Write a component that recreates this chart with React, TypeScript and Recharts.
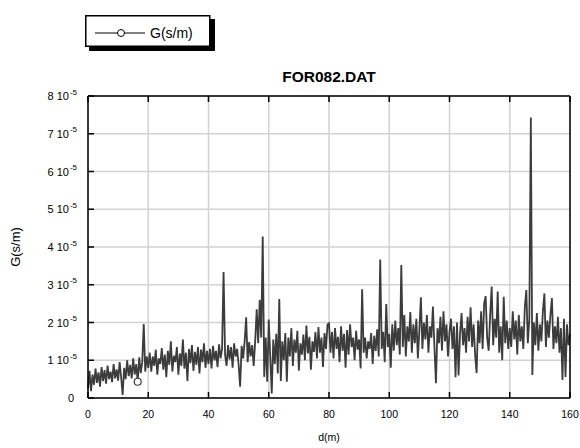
import { LineChart, Line, XAxis, YAxis, CartesianGrid } from "recharts";

// G readings in units of 1e-5 s/m, one every 0.5 m, grouped by 20 m stretch
const G_0_20 = [
  0.25, 0.72, 0.18, 0.62, 0.35, 0.78, 0.4, 0.68, 0.3, 0.82,
  0.45, 0.74, 0.38, 0.86, 0.5, 0.7, 0.42, 0.9, 0.52, 0.76,
  0.46, 0.95, 0.55, 0.08, 0.8, 0.5, 1.0, 0.58, 0.88, 0.52,
  1.05, 0.62, 0.9, 0.43, 1.08, 0.66, 0.95, 1.96, 0.7, 1.1,
];
const G_20_40 = [
  0.8, 1.2, 0.7, 1.1, 0.85, 1.28, 0.62, 1.05, 0.9, 1.32,
  0.75, 1.15, 0.55, 1.25, 0.88, 1.5, 0.7, 1.12, 0.95, 1.35,
  0.62, 1.18, 0.85, 1.55, 0.78, 1.2, 0.45, 1.3, 0.92, 1.4,
  0.72, 1.22, 0.88, 1.35, 0.65, 1.28, 0.95, 1.45, 0.8, 1.25,
];
const G_40_60 = [
  0.9, 1.3, 0.78, 1.38, 1.0, 1.25, 0.82, 1.42, 1.05, 1.3,
  3.34, 1.15, 0.85, 1.4, 1.02, 1.35, 0.8, 1.45, 1.1, 1.3,
  0.88, 0.3, 1.38, 1.05, 1.5, 2.14, 0.95, 1.48, 1.1, 1.4,
  0.85, 1.5, 2.35, 1.45, 2.6, 1.6, 4.28, 0.56, 1.6, 0.43,
];
const G_60_80 = [
  2.08, 1.1, 0.12, 1.55, 0.9, 1.7, 0.65, 2.62, 0.45, 1.5,
  1.0, 1.72, 0.43, 1.6, 1.1, 1.85, 0.85, 1.55, 1.2, 1.78,
  0.72, 1.45, 1.15, 1.68, 1.0, 1.92, 1.18, 1.62, 0.75, 1.5,
  1.22, 1.75, 1.05, 1.88, 1.2, 1.6, 0.82, 1.72, 1.3, 1.95,
];
const G_80_100 = [
  1.98, 1.2, 1.75, 1.05, 1.85, 1.3, 1.62, 0.95, 1.9, 1.25,
  1.7, 0.8, 1.8, 1.15, 1.95, 1.35, 1.6, 1.0, 1.78, 1.28,
  1.55, 0.78, 2.88, 1.2, 1.6, 1.05, 1.5, 1.3, 1.72, 0.9,
  1.65, 1.25, 1.82, 1.1, 3.67, 1.3, 1.75, 0.95, 2.49, 1.35,
];
const G_100_120 = [
  1.7, 0.8, 1.95, 1.25, 2.05, 1.4, 1.85, 1.15, 3.52, 1.35,
  2.2, 1.1, 1.9, 1.5, 2.28, 1.2, 1.95, 1.45, 2.1, 1.05,
  1.8, 2.67, 1.3, 2.0, 1.55, 2.2, 1.2, 1.9, 1.6, 2.42,
  1.35, 0.39, 1.85, 1.45, 2.15, 1.25, 2.3, 1.5, 1.95, 1.1,
];
const G_120_140 = [
  1.75, 2.1, 1.3, 1.9, 0.55, 2.0, 0.6, 1.7, 2.25, 1.4,
  1.85, 1.2, 2.15, 1.5, 2.4, 1.35, 1.95, 1.15, 0.66, 2.05,
  1.45, 2.3, 1.3, 2.5, 2.7, 1.6, 1.25, 2.2, 2.95, 1.4,
  2.1, 1.6, 2.82, 1.2, 1.9, 1.0, 2.68, 1.45, 2.05, 1.3,
];
const G_140_160 = [
  1.85, 1.35, 2.3, 1.55, 2.05, 1.15, 2.2, 1.5, 1.9, 1.3,
  2.4, 2.86, 1.45, 2.1, 7.43, 0.61, 2.0, 1.4, 2.25, 1.25,
  1.95, 1.5, 2.3, 2.77, 1.35, 2.05, 1.6, 2.2, 2.65, 1.3,
  1.9, 1.45, 2.15, 1.2, 1.85, 0.48, 2.1, 0.56, 1.95, 1.4,
  1.7,
];

const STEP_M = 0.5;
const X_TICKS = [0, 20, 40, 60, 80, 100, 120, 140, 160];
const Y_TICKS = [0, 1, 2, 3, 4, 5, 6, 7, 8];
const TITLE = "FOR082.DAT";
const SERIES = "G(s/m)";
const X_LABEL = "d(m)";
const MARKER_D = 16.5; // the plot symbol only shows up once along the trace

const gValues = [
  ...G_0_20, ...G_20_40, ...G_40_60, ...G_60_80,
  ...G_80_100, ...G_100_120, ...G_120_140, ...G_140_160,
];
const rows = gValues.map((g, i) => ({ d: i * STEP_M, g }));

const FONT = "'Liberation Sans', Arial, Helvetica, sans-serif";
const INK = "#3c3c3c";
const FRAME = { stroke: "#000", strokeWidth: 1.5 };

function YTick({ x, y, payload }: any) {
  const v = payload.value;
  return (
    <g>
      <line x1={x} x2={x + 6} y1={y} y2={y} stroke="#000" strokeWidth={1.5} />
      {v === 0 ? (
        <text x={x - 14} y={y + 4} textAnchor="end" fontSize={11} fontFamily={FONT} fill="#000">
          0
        </text>
      ) : (
        <g fontFamily={FONT} fill="#000">
          <text x={x - 19} y={y + 4} textAnchor="end" fontSize={11}>
            {`${v} 10`}
          </text>
          <text x={x - 11} y={y - 1.5} textAnchor="end" fontSize={8}>
            -5
          </text>
        </g>
      )}
    </g>
  );
}

function XTick({ x, y, payload }: any) {
  return (
    <g>
      <line x1={x} x2={x} y1={y} y2={y - 6} stroke="#000" strokeWidth={1.5} />
      <text x={x} y={y + 20} textAnchor="middle" fontSize={10.5} fontFamily={FONT} fill="#000">
        {payload.value}
      </text>
    </g>
  );
}

// inward ticks only, for the top and right frame
const TopTick = ({ x, y }: any) => (
  <line x1={x} x2={x} y1={y} y2={y + 6} stroke="#000" strokeWidth={1.5} />
);
const RightTick = ({ x, y }: any) => (
  <line x1={x} x2={x - 6} y1={y} y2={y} stroke="#000" strokeWidth={1.5} />
);

function Marker(props: any) {
  const { cx, cy, payload, index } = props;
  if (payload.d !== MARKER_D) return <g key={`m${index}`} />;
  return <circle key={`m${index}`} cx={cx} cy={cy} r={3.5} fill="#fff" stroke={INK} strokeWidth={1.2} />;
}

// boxed key with a hard drop shadow
function KeyBox() {
  return (
    <svg
      width={140}
      height={60}
      style={{ position: "absolute", left: 0, top: 0, overflow: "visible", zIndex: 3 }}
    >
      <g transform="translate(85 15)">
        <rect x={4} y={4} width={126} height={32} fill="#000" />
        <rect x={0.75} y={0.75} width={124} height={30.5} fill="#fff" stroke="#000" strokeWidth={1.5} />
        <line x1={10} x2={60} y1={18} y2={18} stroke="#000" strokeWidth={1} />
        <circle cx={36} cy={18} r={3.5} fill="#fff" stroke="#000" strokeWidth={1} />
        <text x={65} y={23} fontSize={14} fontFamily={FONT} fill="#000">
          {SERIES}
        </text>
      </g>
    </svg>
  );
}

export default function App() {
  return (
    <div style={{ position: "absolute", left: 0, top: 0, width: 580, height: 448, background: "#fff" }}>
      <KeyBox />
      <LineChart width={580} height={448} data={rows} margin={{ top: 76, right: 0, bottom: 20, left: 28 }}>
        <CartesianGrid stroke="#d2d2d2" strokeWidth={1.5} />
        <XAxis
          dataKey="d"
          type="number"
          domain={[0, 160]}
          ticks={X_TICKS}
          interval={0}
          height={30}
          tickSize={0}
          tickMargin={0}
          tickLine={false}
          tick={XTick}
          axisLine={FRAME}
          label={{
            content: () => (
              <text x={329} y={441} textAnchor="middle" fontSize={10.5} fontFamily={FONT} fill="#000">
                {X_LABEL}
              </text>
            ),
          }}
        />
        <XAxis
          xAxisId="top"
          orientation="top"
          dataKey="d"
          type="number"
          domain={[0, 160]}
          ticks={X_TICKS}
          interval={0}
          height={20}
          tickSize={0}
          tickMargin={0}
          tickLine={false}
          tick={TopTick}
          axisLine={FRAME}
          label={{
            content: () => (
              <text x={329} y={82} textAnchor="middle" fontSize={15.5} fontWeight="bold" fontFamily={FONT} fill="#000">
                {TITLE}
              </text>
            ),
          }}
        />
        <YAxis
          type="number"
          domain={[0, 8]}
          ticks={Y_TICKS}
          interval={0}
          width={60}
          tickSize={0}
          tickMargin={0}
          tickLine={false}
          tick={YTick}
          axisLine={FRAME}
          label={{
            content: () => (
              <text
                x={20}
                y={247}
                transform="rotate(-90 20 247)"
                textAnchor="middle"
                fontSize={13}
                fontFamily={FONT}
                fill="#000"
              >
                {SERIES}
              </text>
            ),
          }}
        />
        <YAxis
          yAxisId="right"
          orientation="right"
          type="number"
          domain={[0, 8]}
          ticks={Y_TICKS}
          interval={0}
          width={10}
          tickSize={0}
          tickMargin={0}
          tickLine={false}
          tick={RightTick}
          axisLine={FRAME}
        />
        <Line
          type="linear"
          dataKey="g"
          stroke={INK}
          strokeWidth={1.8}
          dot={Marker}
          activeDot={false}
          isAnimationActive={false}
        />
      </LineChart>
    </div>
  );
}
